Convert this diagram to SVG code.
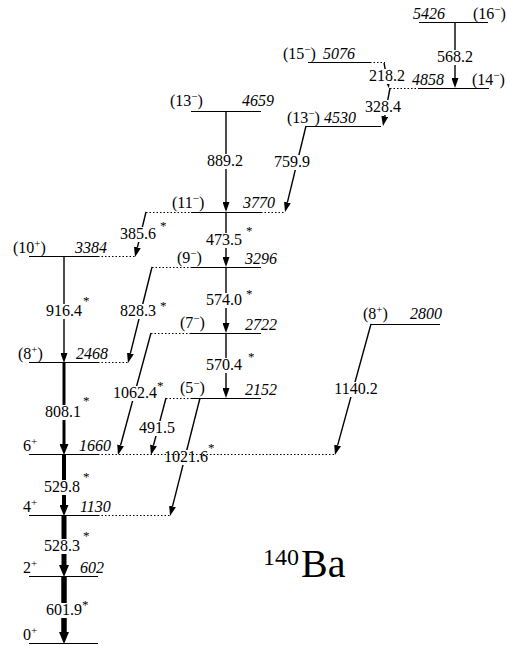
<svg xmlns="http://www.w3.org/2000/svg" width="507" height="645" viewBox="0 0 507 645">
<defs>
<style>
text{font-family:"Liberation Serif","Times New Roman",Times,serif;font-size:16px;fill:#000}
.e{font-style:italic}
.g{text-anchor:middle}
.s{font-size:11px}
.ast{font-size:13px}
.lv{stroke:#000;stroke-width:1;fill:none}
.dt{stroke:#000;stroke-width:1;stroke-dasharray:1.5 2;fill:none}
.tr{stroke:#000;stroke-width:1.4;fill:none;marker-end:url(#ah)}
.bg{fill:#fff}
</style>
<marker id="ah" markerUnits="userSpaceOnUse" viewBox="0 0 10 7" markerWidth="10" markerHeight="7" refX="0" refY="3.5" orient="auto"><path d="M0,0L10,3.5L0,7z"/></marker>
<marker id="ahM" markerUnits="userSpaceOnUse" viewBox="0 0 11 9" markerWidth="11" markerHeight="9" refX="0" refY="4.5" orient="auto"><path d="M0,0L11,4.5L0,9z"/></marker>
<marker id="ahT" markerUnits="userSpaceOnUse" viewBox="0 0 12 10" markerWidth="12" markerHeight="10" refX="0" refY="5" orient="auto"><path d="M0,0L12,5L0,10z"/></marker>
</defs>

<g id="connectors">
<line class="tr" x1="455" y1="23" x2="455" y2="78"/>
<line class="tr" x1="384" y1="63" x2="387" y2="78.2"/>
<line class="tr" x1="390" y1="88" x2="384.8" y2="116.2"/>
<line class="tr" x1="226" y1="111" x2="226" y2="202"/>
<line class="tr" x1="306" y1="126" x2="287.4" y2="202.3"/>
<line class="tr" x1="146" y1="212" x2="137.4" y2="247.3"/>
<line class="tr" x1="226" y1="212" x2="226" y2="257"/>
<line class="tr" x1="226" y1="267" x2="226" y2="323"/>
<line class="tr" x1="226" y1="333" x2="226" y2="388"/>
<line class="tr" x1="152" y1="267" x2="130.4" y2="353.3"/>
<line class="tr" x1="64" y1="257" x2="64" y2="353"/>
<line class="tr" x1="151" y1="333" x2="120.6" y2="445.3"/>
<line class="tr" x1="166" y1="398" x2="153.5" y2="445.3"/>
<line class="tr" x1="200" y1="398" x2="172.5" y2="506.3"/>
<line class="tr" x1="371" y1="324" x2="337.6" y2="445.4"/>
<line x1="64" y1="363" x2="64" y2="444" stroke="#000" stroke-width="3" marker-end="url(#ahM)"/>
<line x1="64" y1="455" x2="64" y2="505" stroke="#000" stroke-width="4" marker-end="url(#ahM)"/>
<line x1="64" y1="516" x2="64" y2="565" stroke="#000" stroke-width="5" marker-end="url(#ahT)"/>
<line x1="64" y1="577" x2="64" y2="632" stroke="#000" stroke-width="5.5" marker-end="url(#ahT)"/>

<g id="labels">
<rect class="bg" x="436" y="50" width="37" height="15"/><text class="g" x="455" y="62">568.2</text>
<rect class="bg" x="369" y="69" width="37" height="15"/><text class="g" x="387" y="81">218.2</text>
<rect class="bg" x="364" y="100" width="37" height="15"/><text class="g" x="383" y="112">328.4</text>
<rect class="bg" x="206" y="154" width="38" height="15"/><text class="g" x="225" y="166">889.2</text>
<rect class="bg" x="273" y="155" width="38" height="15"/><text class="g" x="292" y="167">759.9</text>
<rect class="bg" x="119" y="227" width="38" height="15"/><text class="g" x="138" y="239">385.6</text><text class="ast" x="160" y="230">*</text>
<rect class="bg" x="205" y="233" width="38" height="15"/><text class="g" x="224" y="245">473.5</text><text class="ast" x="246" y="235">*</text>
<rect class="bg" x="205" y="293" width="38" height="15"/><text class="g" x="224" y="305">574.0</text><text class="ast" x="246" y="298">*</text>
<rect class="bg" x="205" y="358" width="38" height="15"/><text class="g" x="224" y="370">570.4</text><text class="ast" x="248" y="361">*</text>
<rect class="bg" x="119" y="304" width="38" height="15"/><text class="g" x="138" y="316">828.3</text><text class="ast" x="160" y="310">*</text>
<rect class="bg" x="45" y="304" width="38" height="15"/><text class="g" x="64" y="316">916.4</text><text class="ast" x="83" y="305">*</text>
<rect class="bg" x="44" y="405" width="38" height="15"/><text class="g" x="63" y="417">808.1</text><text class="ast" x="83" y="405">*</text>
<rect class="bg" x="112" y="386" width="46" height="15"/><text class="g" x="135" y="398">1062.4</text><text class="ast" x="157" y="390">*</text>
<rect class="bg" x="138" y="421" width="38" height="15"/><text class="g" x="157" y="433">491.5</text>
<rect class="bg" x="163" y="450" width="46" height="15"/><text class="g" x="186" y="462">1021.6</text><text class="ast" x="208" y="452">*</text>
<rect class="bg" x="333" y="382" width="46" height="15"/><text class="g" x="356" y="394">1140.2</text>
<rect class="bg" x="43" y="480" width="38" height="15"/><text class="g" x="62" y="492">529.8</text><text class="ast" x="83" y="481">*</text>
<rect class="bg" x="43" y="539" width="38" height="15"/><text class="g" x="62" y="551">528.3</text><text class="ast" x="83" y="540">*</text>
<rect class="bg" x="45" y="603" width="38" height="15"/><text class="g" x="64" y="615">601.9</text><text class="ast" x="82" y="609">*</text>
</g>
</g>

<g id="lvl0">
<line class="lv" x1="29" y1="643.5" x2="98" y2="643.5"/>
<text x="23" y="640">0<tspan class="s" dy="-6">+</tspan></text>
</g>
<g id="lvl602">
<line class="lv" x1="29" y1="576.5" x2="98" y2="576.5"/>
<text x="23" y="573">2<tspan class="s" dy="-6">+</tspan></text>
<text class="e" x="80" y="573">602</text>
</g>
<g id="lvl1130">
<line class="lv" x1="29" y1="515.5" x2="98" y2="515.5"/>
<line class="dt" x1="98" y1="515.5" x2="170" y2="515.5"/>
<text x="23" y="512">4<tspan class="s" dy="-6">+</tspan></text>
<text class="e" x="80" y="512">1130</text>
</g>
<g id="lvl1660">
<line class="lv" x1="29" y1="454.5" x2="98" y2="454.5"/>
<line class="dt" x1="98" y1="454.5" x2="335" y2="454.5"/>
<text x="23" y="451">6<tspan class="s" dy="-6">+</tspan></text>
<text class="e" x="79" y="451">1660</text>
</g>
<g id="lvl2468">
<line class="lv" x1="29" y1="362.5" x2="98" y2="362.5"/>
<line class="dt" x1="98" y1="362.5" x2="128" y2="362.5"/>
<text x="18" y="359">(8<tspan class="s" dy="-6">+</tspan><tspan dy="6">)</tspan></text>
<text class="e" x="76" y="359">2468</text>
</g>
<g id="lvl3384">
<line class="lv" x1="29" y1="256.5" x2="98" y2="256.5"/>
<line class="dt" x1="98" y1="256.5" x2="135" y2="256.5"/>
<text x="13" y="253">(10<tspan class="s" dy="-6">+</tspan><tspan dy="6">)</tspan></text>
<text class="e" x="75" y="253">3384</text>
</g>
<g id="lvl3770">
<line class="lv" x1="191" y1="212.5" x2="261" y2="212.5"/>
<line class="dt" x1="146" y1="212.5" x2="191" y2="212.5"/>
<line class="dt" x1="261" y1="212.5" x2="285" y2="212.5"/>
<text x="172" y="208">(11<tspan class="s" dy="-6">−</tspan><tspan dy="6">)</tspan></text>
<text class="e" x="243" y="208">3770</text>
</g>
<g id="lvl4659">
<line class="lv" x1="191" y1="111.5" x2="261" y2="111.5"/>
<text x="170" y="106">(13<tspan class="s" dy="-6">−</tspan><tspan dy="6">)</tspan></text>
<text class="e" x="242" y="106">4659</text>
</g>
<g id="lvl3296">
<line class="lv" x1="191" y1="267.5" x2="261" y2="267.5"/>
<line class="dt" x1="152" y1="267.5" x2="191" y2="267.5"/>
<text x="177" y="263">(9<tspan class="s" dy="-6">−</tspan><tspan dy="6">)</tspan></text>
<text class="e" x="245" y="264">3296</text>
</g>
<g id="lvl2722">
<line class="lv" x1="191" y1="333.5" x2="261" y2="333.5"/>
<line class="dt" x1="151" y1="333.5" x2="191" y2="333.5"/>
<text x="180" y="328">(7<tspan class="s" dy="-6">−</tspan><tspan dy="6">)</tspan></text>
<text class="e" x="245" y="330">2722</text>
</g>
<g id="lvl2152">
<line class="lv" x1="191" y1="398.5" x2="261" y2="398.5"/>
<line class="dt" x1="166" y1="398.5" x2="191" y2="398.5"/>
<text x="180" y="393">(5<tspan class="s" dy="-6">−</tspan><tspan dy="6">)</tspan></text>
<text class="e" x="245" y="395">2152</text>
</g>
<g id="lvl4530">
<line class="lv" x1="306" y1="126.5" x2="381" y2="126.5"/>
<text x="287" y="123">(13<tspan class="s" dy="-6">−</tspan><tspan dy="6">)</tspan></text>
<text class="e" x="324" y="123">4530</text>
</g>
<g id="lvl4858">
<line class="dt" x1="390" y1="88.5" x2="418" y2="88.5"/>
<line class="lv" x1="418" y1="88.5" x2="489" y2="88.5"/>
<text class="e" x="412" y="85">4858</text>
<text x="472" y="85">(14<tspan class="s" dy="-6">−</tspan><tspan dy="6">)</tspan></text>
</g>
<g id="lvl5076">
<line class="lv" x1="308" y1="62.5" x2="370" y2="62.5"/>
<line class="dt" x1="370" y1="62.5" x2="385" y2="62.5"/>
<text x="283" y="59">(15<tspan class="s" dy="-6">−</tspan><tspan dy="6">)</tspan></text>
<text class="e" x="323" y="59">5076</text>
</g>
<g id="lvl5426">
<line class="lv" x1="419" y1="22.5" x2="488" y2="22.5"/>
<text class="e" x="413" y="19">5426</text>
<text x="473" y="19">(16<tspan class="s" dy="-6">−</tspan><tspan dy="6">)</tspan></text>
</g>
<g id="lvl2800">
<line class="lv" x1="371" y1="324.5" x2="440" y2="324.5"/>
<text x="363" y="319">(8<tspan class="s" dy="-6">+</tspan><tspan dy="6">)</tspan></text>
<text class="e" x="410" y="319">2800</text>
</g>

<g id="title">
<text x="263" y="565" style="font-size:24px">140</text>
<text x="301" y="577" style="font-size:40px">Ba</text>
</g>
</svg>
